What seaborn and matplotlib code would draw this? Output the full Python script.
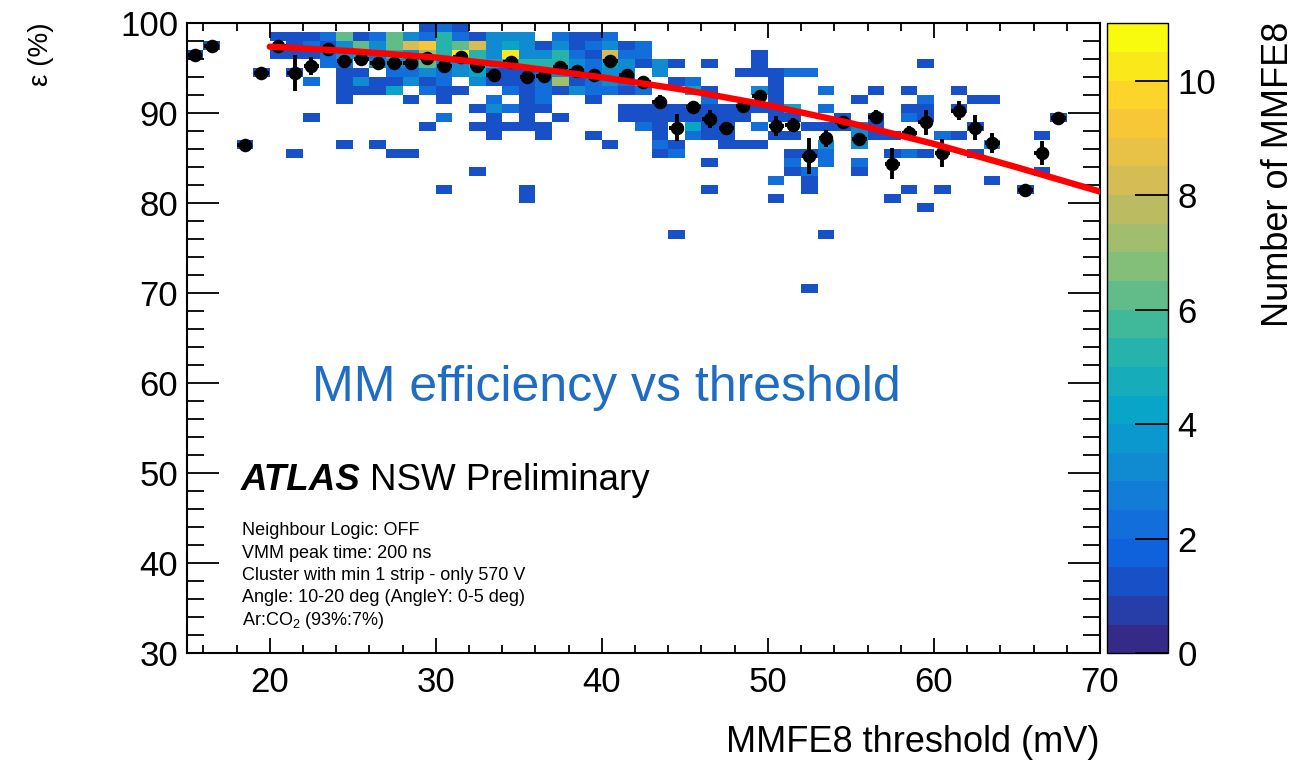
import numpy as np
import pandas as pd
import matplotlib
matplotlib.use("Agg")
import matplotlib.pyplot as plt
from matplotlib.colors import LinearSegmentedColormap, ListedColormap
from matplotlib.ticker import MultipleLocator
import seaborn as sns

# ---------------- data ----------------
# 2D histogram: efficiency bin (lower edge, %) -> thresholds (lower edge, mV) and counts
eff_rows = [99, 98, 97, 96, 95, 94, 93, 92, 91, 90, 89, 88, 87, 86, 85, 84, 83, 82, 81, 80, 79, 76, 70]
thr_per_row = [
    [29, 30, 31],
    [20, 21, 22, 23, 24, 25, 26, 27, 28, 29, 30, 31, 32, 33, 34, 35, 37, 38, 39, 40],
    [16, 21, 22, 23, 24, 25, 26, 27, 28, 29, 30, 31, 32, 33, 34, 35, 36, 37, 38, 39, 40, 41, 42],
    [15, 20, 21, 22, 23, 24, 25, 26, 27, 28, 29, 30, 31, 32, 33, 34, 35, 36, 37, 38, 39, 40, 41, 42, 49],
    [23, 24, 26, 27, 28, 29, 30, 31, 32, 33, 34, 35, 36, 37, 38, 39, 40, 41, 42, 43, 44, 46, 49, 59],
    [19, 21, 24, 25, 27, 28, 29, 30, 31, 32, 33, 34, 35, 36, 37, 38, 39, 40, 41, 43, 48, 49, 50, 51, 52],
    [22, 24, 25, 26, 27, 28, 29, 30, 32, 33, 34, 35, 36, 37, 38, 39, 40, 41, 44, 45, 50],
    [24, 25, 26, 27, 29, 30, 31, 34, 35, 36, 37, 38, 39, 40, 41, 42, 45, 46, 49, 50, 53, 56, 58, 61],
    [24, 28, 30, 33, 35, 36, 39, 46, 50, 55, 59, 62, 63],
    [32, 33, 34, 35, 36, 41, 42, 43, 44, 45, 46, 47, 48, 49, 50, 51, 53, 58, 59, 61],
    [22, 30, 33, 35, 37, 41, 42, 43, 44, 45, 46, 47, 48, 50, 51, 54, 56, 58, 59, 67],
    [29, 32, 33, 34, 35, 36, 42, 43, 45, 46, 47, 49, 52, 53, 54, 55, 56, 62],
    [33, 36, 39, 43, 45, 46, 47, 50, 51, 55, 56, 57, 60, 61, 66],
    [18, 24, 26, 40, 43, 44, 47, 48, 49, 53, 55, 63],
    [21, 27, 28, 43, 44, 51, 52, 53, 57, 58, 59, 62],
    [46, 51, 53, 55],
    [32, 51, 52, 55, 66],
    [50, 52, 63],
    [30, 35, 46, 52, 58, 60, 65],
    [35, 50, 57],
    [59],
    [44, 53],
    [52],
]
cnt_per_row = [
    [1, 2, 1],
    [1, 1, 1, 2, 6, 1, 2, 6, 3, 2, 5, 2, 1, 3, 3, 3, 2, 1, 1, 2],
    [1, 1, 2, 1, 3, 6, 3, 6, 8, 9, 5, 6, 8, 3, 4, 3, 1, 3, 1, 2, 3, 1, 2],
    [1, 1, 1, 1, 2, 3, 4, 2, 5, 3, 7, 5, 10, 5, 3, 10, 3, 3, 5, 2, 1, 8, 2, 2, 1],
    [2, 2, 3, 3, 3, 6, 3, 3, 5, 4, 5, 5, 5, 5, 3, 2, 4, 3, 1, 3, 1, 1, 1, 1],
    [1, 1, 1, 1, 2, 2, 3, 2, 3, 4, 1, 1, 1, 2, 3, 2, 2, 3, 3, 3, 1, 1, 1, 2, 2],
    [2, 1, 3, 1, 1, 3, 1, 2, 3, 1, 1, 1, 2, 7, 1, 2, 3, 2, 1, 2, 1],
    [1, 1, 1, 4, 2, 1, 1, 2, 1, 2, 1, 3, 2, 2, 1, 2, 4, 1, 3, 1, 2, 1, 1, 1],
    [1, 1, 1, 2, 1, 2, 1, 2, 1, 1, 2, 1, 1],
    [1, 3, 2, 1, 1, 1, 1, 1, 1, 1, 1, 1, 1, 1, 1, 4, 2, 1, 1, 1],
    [1, 2, 1, 1, 1, 1, 1, 1, 1, 1, 1, 1, 1, 1, 1, 1, 1, 2, 1, 1],
    [1, 1, 1, 1, 1, 1, 2, 1, 4, 1, 1, 2, 1, 1, 1, 3, 1, 1],
    [1, 1, 1, 1, 2, 1, 1, 1, 1, 3, 1, 1, 2, 1, 1],
    [1, 1, 1, 1, 2, 1, 1, 1, 1, 3, 3, 3],
    [1, 1, 1, 1, 2, 1, 1, 2, 1, 2, 1, 1],
    [1, 2, 2, 2],
    [1, 1, 2, 1, 1],
    [2, 1, 1],
    [1, 1, 1, 1, 1, 1, 1],
    [1, 1, 1],
    [1],
    [1, 1],
    [1],
]

# profile points (mean efficiency per threshold bin) with errors
prof_thr = [15.5, 16.5, 18.5, 19.5, 20.5, 21.5, 22.5, 23.5, 24.5, 25.5, 26.5, 27.5, 28.5, 29.5,
            30.5, 31.5, 32.5, 33.5, 34.5, 35.5, 36.5, 37.5, 38.5, 39.5, 40.5, 41.5, 42.5, 43.5,
            44.5, 45.5, 46.5, 47.5, 48.5, 49.5, 50.5, 51.5, 52.5, 53.5, 54.5, 55.5, 56.5, 57.5,
            58.5, 59.5, 60.5, 61.5, 62.5, 63.5, 65.5, 66.5, 67.5]
prof_eff = [96.5, 97.5, 86.5, 94.5, 97.5, 94.5, 95.2, 97.1, 95.85, 96.0, 95.6, 95.6, 95.6, 96.1,
            95.3, 96.3, 95.2, 94.3, 95.7, 94.0, 94.1, 95.1, 94.7, 94.2, 95.8, 94.2, 93.5, 91.3,
            88.4, 90.7, 89.4, 88.4, 90.8, 91.9, 88.6, 88.7, 85.2, 87.2, 89.0, 87.1, 89.6, 84.4,
            87.8, 89.0, 85.6, 90.3, 88.4, 86.7, 81.5, 85.6, 89.5]
prof_err = [0.0, 0.0, 0.0, 0.0, 0.5, 2.0, 1.0, 0.4, 0.6, 0.4, 0.4, 0.4, 0.4, 0.3,
            0.5, 0.3, 0.4, 0.5, 0.3, 0.6, 0.5, 0.4, 0.5, 0.5, 0.4, 0.6, 0.6, 0.7,
            1.5, 0.5, 1.0, 0.5, 0.7, 0.7, 1.1, 0.8, 2.0, 0.9, 0.4, 0.5, 0.8, 1.7,
            0.8, 1.4, 1.6, 1.1, 1.4, 1.1, 0.0, 1.3, 0.0]

# fit curve, read at a few thresholds
fit_thr = [20, 25, 30, 35, 40, 45, 50, 55, 60, 65, 70]
fit_eff = [97.4, 96.9, 96.2, 95.2, 94.0, 92.6, 90.9, 88.9, 86.6, 84.0, 81.3]

cbar_ticks = [0, 2, 4, 6, 8, 10]
x_ticks = [20, 30, 40, 50, 60, 70]
y_ticks = [30, 40, 50, 60, 70, 80, 90, 100]

# ---------------- styling ----------------
sns.set_style("ticks")
plt.rcParams["font.family"] = ["Liberation Sans", "DejaVu Sans"]
plt.rcParams["mathtext.fontset"] = "custom"
plt.rcParams["mathtext.rm"] = "Liberation Sans"
plt.rcParams["mathtext.it"] = "Liberation Sans:italic"
for key in ["text.color", "axes.labelcolor", "xtick.color", "ytick.color", "axes.edgecolor"]:
    plt.rcParams[key] = "black"

W, H = 1315, 760
fig = plt.figure(figsize=(W / 100, H / 100), dpi=100)
fig.patch.set_facecolor("white")


def fx(x):
    return x / W


def fy(y):
    return 1 - y / H


ax = fig.add_axes([fx(186.7), fy(653.3), fx(1100) - fx(186.7), fy(23.3) - fy(653.3)])
cax = fig.add_axes([fx(1106.5), fy(653.3), fx(1168) - fx(1106.5), fy(23.3) - fy(653.3)])

# ROOT kBird palette, 22 contour levels from 0 to 11
bird_r = [0.2082, 0.0592, 0.0780, 0.0232, 0.1802, 0.5301, 0.8186, 0.9956, 0.9764]
bird_g = [0.1664, 0.3599, 0.5041, 0.6419, 0.7178, 0.7492, 0.7328, 0.7862, 0.9832]
bird_b = [0.5293, 0.8684, 0.8385, 0.7914, 0.6425, 0.4662, 0.3499, 0.1968, 0.0539]
stops = np.linspace(0, 1, len(bird_r))
bird = LinearSegmentedColormap.from_list("bird", list(zip(stops, zip(bird_r, bird_g, bird_b))))
cmap = ListedColormap([bird(v) for v in np.linspace(0, 1, 22)])

rows = []
for e, thrs, cnts in zip(eff_rows, thr_per_row, cnt_per_row):
    for t, n in zip(thrs, cnts):
        rows.append((t + 0.5, e + 0.5, n))
df = pd.DataFrame(rows, columns=["thr", "eff", "n"])

sns.histplot(data=df, x="thr", y="eff", weights="n", binwidth=1,
             binrange=((15, 70), (30, 100)), cmap=cmap, ax=ax, cbar=False)
mesh = ax.collections[0]
mesh.set_clim(0, 11)

# profile with error bars
ax.errorbar(prof_thr, prof_eff, xerr=0.45, yerr=prof_err, fmt="none",
            ecolor="black", elinewidth=2.8, capsize=0, zorder=4)
sns.scatterplot(x=prof_thr, y=prof_eff, color="black", marker="o", s=95,
                edgecolor="black", linewidth=0, ax=ax, zorder=5)
# fit
sns.lineplot(x=fit_thr, y=fit_eff, color="#ff0000", linewidth=4.6, ax=ax, zorder=6)

ax.set_xlim(15, 70)
ax.set_ylim(30, 100)
ax.set_xlabel("")
ax.set_ylabel("")
ax.set_axisbelow(False)
ax.set_xticks(x_ticks)
ax.set_yticks(y_ticks)
ax.xaxis.set_minor_locator(MultipleLocator(2))
ax.yaxis.set_minor_locator(MultipleLocator(2))
ax.tick_params(axis="x", which="major", direction="in", length=10.8, width=1.3,
               top=True, labelsize=25, pad=9, colors="black")
ax.tick_params(axis="x", which="minor", direction="in", length=5.8, width=1.3, top=True,
               colors="black")
ax.tick_params(axis="y", which="major", direction="in", length=23, width=1.3,
               right=True, labelsize=25, pad=6, colors="black")
ax.tick_params(axis="y", which="minor", direction="in", length=12, width=1.3, right=True,
               colors="black")
for s in ax.spines.values():
    s.set_linewidth(1.5)
    s.set_color("black")

cb = fig.colorbar(mesh, cax=cax, ticks=cbar_ticks)
cb.outline.set_linewidth(1.0)
cax.set_axisbelow(False)
cax.tick_params(direction="in", length=24, width=1.3, labelsize=25, pad=7, colors="black")
cax.yaxis.set_minor_locator(plt.NullLocator())

# ---------------- texts ----------------
fig.text(fx(41), fy(22), "\u03b5 (%)", rotation=90, ha="center", va="top", fontsize=20)
fig.text(fx(1100), fy(743), "MMFE8 threshold (mV)", ha="right", va="center", fontsize=26)
fig.text(fx(1279), fy(22), "Number of MMFE8", rotation=90, ha="center", va="top", fontsize=26)

fig.text(fx(312), fy(401), "MM efficiency vs threshold", color="#1f6cc4",
         ha="left", va="baseline", fontsize=36)
fig.text(fx(241), fy(490), "ATLAS", fontweight="bold", fontstyle="italic",
         ha="left", va="baseline", fontsize=26.5)
fig.text(fx(370), fy(490), "NSW Preliminary", ha="left", va="baseline", fontsize=26.5)

info_lines = ["Neighbour Logic: OFF",
              "VMM peak time: 200 ns",
              "Cluster with min 1 strip - only 570 V",
              "Angle: 10-20 deg (AngleY: 0-5 deg)",
              r"Ar:CO$_{2}$ (93%:7%)"]
for i, line in enumerate(info_lines):
    fig.text(fx(241.5), fy(535 + 22.5 * i), line, ha="left", va="baseline", fontsize=13)

fig.savefig("out.png", dpi=100)
